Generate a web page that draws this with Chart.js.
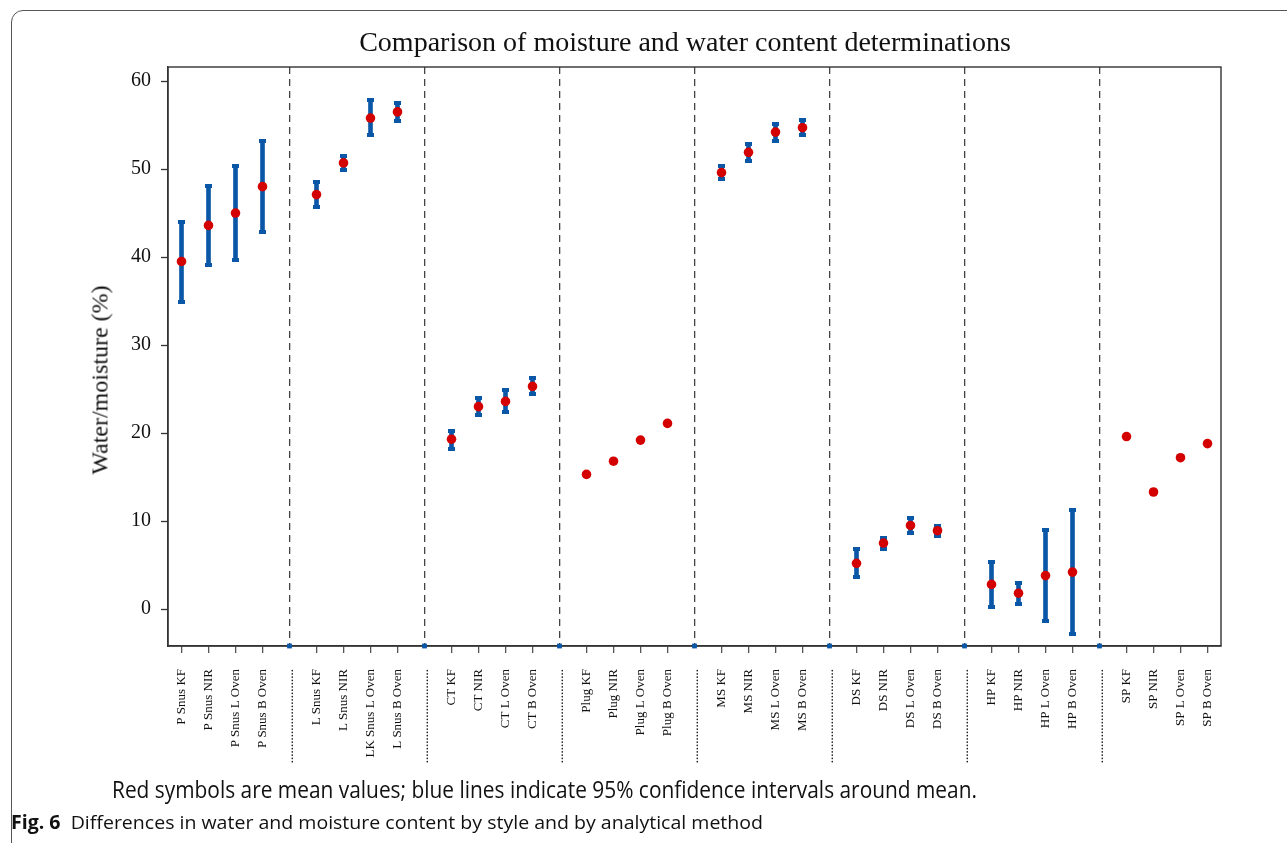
<!DOCTYPE html>
<html>
<head>
<meta charset="utf-8">
<title>Comparison of moisture and water content determinations</title>
<script src="https://cdn.jsdelivr.net/npm/chart.js@4.4.1/dist/chart.umd.min.js"></script>
<style>
  html, body { margin: 0; padding: 0; background: #fff; }
  #page { position: relative; width: 1287px; height: 843px; overflow: hidden; }
  #frame { position: absolute; left: 11px; top: 10px; width: 1320px; height: 900px;
           border: 1px solid #555; border-radius: 12px; box-sizing: border-box; }
  #chart { position: absolute; left: 0; top: 0; }
  .serif { font-family: "Liberation Serif", "DejaVu Serif", serif; color: #111; }
  #title { position: absolute; top: 42px; left: 685px; transform: translate(-50%, -50%);
           font-size: 28px; white-space: nowrap; }
  #ytitle { position: absolute; left: 100px; top: 380px; transform: translate(-50%, -50%) rotate(-90deg);
            font-size: 24px; white-space: nowrap; }
  .cap { position: absolute; white-space: nowrap; font-family: "Open Sans", "Noto Sans", sans-serif;
         color: #111; transform-origin: 0 50%; }
  #note { left: 112px; top: 789px; font-size: 23px; }
  #fig { left: 11px; top: 822px; font-size: 19px; }
</style>
</head>
<body>
<div id="page">
  <div id="frame"></div>
  <canvas id="chart" width="1287" height="843"></canvas>
  <div id="title" class="serif">Comparison of moisture and water content determinations</div>
  <div id="ytitle" class="serif">Water/moisture (%)</div>
  <div id="note" class="cap" data-w="865">Red symbols are mean values; blue lines indicate 95% confidence intervals around mean.</div>
  <div id="fig" class="cap" data-w="752"><b>Fig. 6</b>&nbsp; Differences in water and moisture content by style and by analytical method</div>
</div>
<script>
// Product styles x analytical methods (four methods per style)
const methodLabels = [
  'P Snus KF', 'P Snus NIR', 'P Snus L Oven', 'P Snus B Oven',
  'L Snus KF', 'L Snus NIR', 'LK Snus L Oven', 'L Snus B Oven',
  'CT KF', 'CT NIR', 'CT L Oven', 'CT B Oven',
  'Plug KF', 'Plug NIR', 'Plug L Oven', 'Plug B Oven',
  'MS KF', 'MS NIR', 'MS L Oven', 'MS B Oven',
  'DS KF', 'DS NIR', 'DS L Oven', 'DS B Oven',
  'HP KF', 'HP NIR', 'HP L Oven', 'HP B Oven',
  'SP KF', 'SP NIR', 'SP L Oven', 'SP B Oven'
];
const methodsPerGroup = 4;

// Mean water/moisture (%)
const means = [
  39.5, 43.6, 45.0, 48.0,
  47.1, 50.7, 55.8, 56.5,
  19.3, 23.0, 23.6, 25.3,
  15.3, 16.8, 19.2, 21.1,
  49.6, 51.9, 54.2, 54.7,
  5.2, 7.5, 9.5, 8.9,
  2.8, 1.8, 3.8, 4.2,
  19.6, 13.3, 17.2, 18.8
];

// 95% confidence interval bounds (null where the interval is not drawn)
const ciLow = [
  34.9, 39.1, 39.7, 42.8,
  45.7, 49.9, 53.9, 55.5,
  18.2, 22.0, 22.4, 24.4,
  null, null, null, null,
  48.9, 50.9, 53.2, 53.9,
  3.6, 6.8, 8.6, 8.3,
  0.2, 0.6, -1.4, -2.8,
  null, null, null, null
];
const ciHigh = [
  44.0, 48.1, 50.3, 53.2,
  48.5, 51.5, 57.9, 57.5,
  20.2, 24.0, 24.9, 26.3,
  null, null, null, null,
  50.3, 52.9, 55.1, 55.6,
  6.85, 8.1, 10.3, 9.4,
  5.3, 3.0, 9.0, 11.2,
  null, null, null, null
];

const yTickValues = [0, 10, 20, 30, 40, 50, 60];
const yMin = -4.2;
const yMax = 61.6;
const separatorLabel = '.'.repeat(29);

// Build the category axis with a spacer category between style groups
const labels = [];
const isSep = [];
const srcIndex = [];
methodLabels.forEach((lab, i) => {
  if (i > 0 && i % methodsPerGroup === 0) {
    labels.push(separatorLabel); isSep.push(true); srcIndex.push(-1);
  }
  labels.push(lab); isSep.push(false); srcIndex.push(i);
});
const pick = arr => srcIndex.map(k => (k < 0 ? null : arr[k]));
const meanData = pick(means);
const lowData = pick(ciLow);
const highData = pick(ciHigh);
const ciData = srcIndex.map(k => (k < 0 || ciLow[k] == null) ? null : [ciLow[k], ciHigh[k]]);
const sepData = isSep.map(s => (s ? yMin : null));

const BLUE = '#0a57a8';
const RED = '#d40000';

// Small flat cap drawn at each end of a confidence interval
const capImg = document.createElement('canvas');
capImg.width = 7; capImg.height = 4;
(function () {
  const c = capImg.getContext('2d');
  c.fillStyle = BLUE;
  c.fillRect(0, 0, 7, 4);
})();

const plotBox = {
  id: 'plotBox',
  beforeDatasetsDraw(chart) {
    const { ctx, chartArea: a } = chart;
    ctx.save();
    ctx.strokeStyle = '#333';
    ctx.lineWidth = 1.4;
    ctx.strokeRect(a.left, a.top, a.right - a.left, a.bottom - a.top);
    ctx.restore();
  }
};

new Chart(document.getElementById('chart'), {
  type: 'bar',
  data: {
    labels,
    datasets: [
      { type: 'line', label: 'Mean', data: meanData, showLine: false, order: 0,
        pointRadius: 4.8, pointBackgroundColor: RED, pointBorderColor: RED, pointBorderWidth: 0 },
      { type: 'line', label: 'CI upper', data: highData, showLine: false, order: 1,
        pointStyle: capImg, pointRadius: 3 },
      { type: 'line', label: 'CI lower', data: lowData, showLine: false, order: 1,
        pointStyle: capImg, pointRadius: 3 },
      { type: 'line', label: 'Group break', data: sepData, showLine: false, order: 1, clip: false,
        pointStyle: 'rect', pointRadius: 3.4, pointBackgroundColor: BLUE, pointBorderColor: BLUE, pointBorderWidth: 0 },
      { type: 'bar', label: '95% CI', data: ciData, order: 2,
        backgroundColor: BLUE, borderWidth: 0, barThickness: 4, grouped: false }
    ]
  },
  options: {
    responsive: false,
    animation: false,
    events: [],
    layout: { padding: { left: 0, top: 67, right: 66, bottom: 0 } },
    plugins: { legend: { display: false }, tooltip: { enabled: false }, title: { display: false } },
    scales: {
      x: {
        type: 'category',
        offset: true,
        grid: {
          offset: false,
          drawOnChartArea: true,
          drawTicks: true,
          tickLength: 7,
          lineWidth: 1.3,
          color: ctx => (isSep[ctx.index] ? '#444' : 'rgba(0,0,0,0)'),
          tickColor: ctx => (isSep[ctx.index] ? 'rgba(0,0,0,0)' : '#555'),
          tickWidth: 1.3
        },
        border: { display: true, color: '#333', width: 1.4, dash: [7, 5] },
        ticks: {
          autoSkip: false, maxRotation: 90, minRotation: 90, padding: 16,
          color: '#111',
          font: { family: '"Liberation Serif", "DejaVu Serif", serif', size: 13 }
        },
        afterFit: s => { s.height = 197; }
      },
      y: {
        type: 'linear',
        min: yMin,
        max: yMax,
        afterBuildTicks: s => { s.ticks = yTickValues.map(v => ({ value: v })); },
        grid: { drawOnChartArea: false, drawTicks: true, tickLength: 7, tickColor: '#333', tickWidth: 1.3 },
        border: { display: true, color: '#333', width: 1.4 },
        ticks: {
          padding: 10, color: '#111',
          font: { family: '"Liberation Serif", "DejaVu Serif", serif', size: 20 }
        },
        afterFit: s => { s.width = 168; }
      }
    }
  },
  plugins: [plotBox]
});

// Fit the caption lines to their set widths
function fitCaptions() {
  document.querySelectorAll('.cap').forEach(el => {
    el.style.transform = 'translateY(-50%)';
    const w = el.getBoundingClientRect().width;
    const target = parseFloat(el.dataset.w);
    el.style.transform = 'translateY(-50%) scaleX(' + (target / w) + ')';
  });
}
if (document.fonts && document.fonts.ready) document.fonts.ready.then(fitCaptions); else fitCaptions();
fitCaptions();
</script>
</body>
</html>
